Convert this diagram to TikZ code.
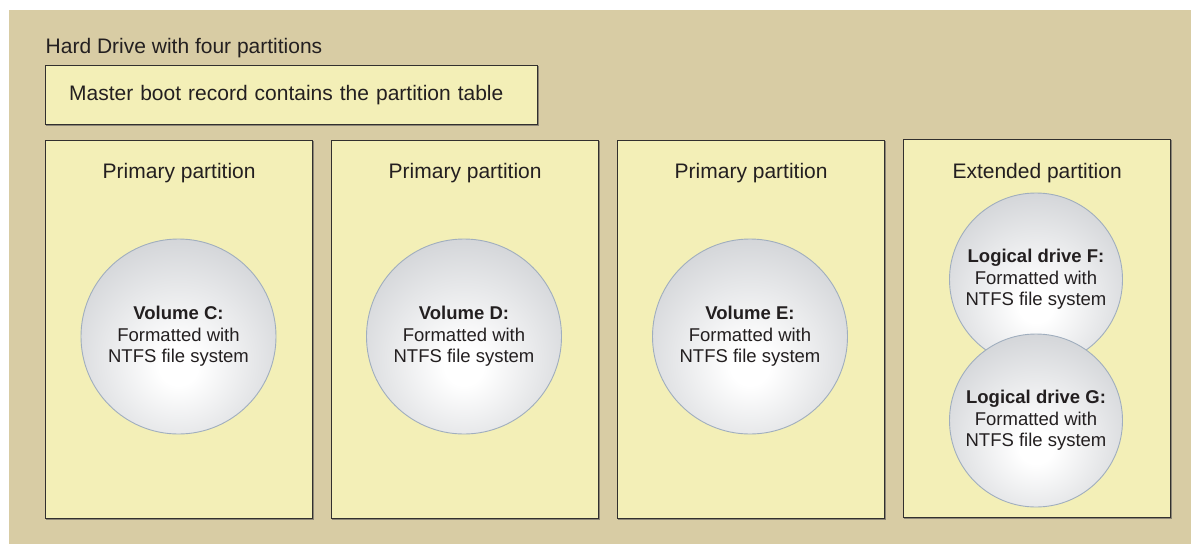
\documentclass[tikz,border=0pt]{standalone}
\usepackage{fontspec}
\setmainfont{Liberation Sans}
\usetikzlibrary{calc}
\definecolor{tanbg}{RGB}{216,204,164}
\definecolor{paleyel}{RGB}{243,239,183}
\definecolor{edgecol}{RGB}{50,48,46}
\definecolor{shadowcol}{RGB}{140,134,118}
\definecolor{txt}{RGB}{35,31,32}
\definecolor{sphgray}{RGB}{188,191,196}
\definecolor{sphedge}{RGB}{160,174,190}
\pgfdeclareradialshading{sphere}{\pgfpoint{0bp}{-8bp}}{color(0bp)=(white); color(5bp)=(white); color(44bp)=(sphgray); color(80bp)=(sphgray)}
\tikzset{
  bigtext/.style={font=\fontsize{21}{25}\selectfont, text=txt},
  smalltext/.style={font=\fontsize{18.5}{21.5}\selectfont, text=txt},
  yelbox/.style={draw=edgecol, line width=1.3pt, fill=paleyel, rectangle, inner sep=0pt,
    preaction={draw=shadowcol, line width=1.1pt, transform canvas={shift={(1pt,-1pt)}}}},
  partbox/.style={yelbox, minimum width=267pt, minimum height=378pt, anchor=north west},
  mbrbox/.style={yelbox, bigtext, anchor=north west, minimum height=59pt, text width=445pt,
    inner xsep=23.5pt, align=left},
  sphere node/.style={circle, draw=sphedge, line width=0.9pt, shading=sphere, inner sep=0pt,
    smalltext, align=center},
  vol/.style={sphere node, minimum size=195pt},
  logical/.style={sphere node, minimum size=173pt},
  partlabel/.style={bigtext, anchor=base, inner sep=0pt}
}
\begin{document}
\begin{tikzpicture}[x=1pt,y=-1pt]
\path[use as bounding box] (0,0) rectangle (1191,544);
\fill[tanbg] (9,10) rectangle (1191,544);
\node[bigtext, anchor=base west, inner sep=0pt] (title) at (45.5,53) {Hard Drive with four partitions};
\node[mbrbox] (mbr) at (45,65) {Master boot record contains the partition table};
\node[partbox] (p1) at (45,140) {};
\node[partbox] (p2) at (331,140) {};
\node[partbox] (p3) at (617,140) {};
\node[partbox] (p4) at (903,139) {};
\node[partlabel] (l1) at ($(p1.north)+(0,38)$) {Primary partition};
\node[partlabel] (l2) at ($(p2.north)+(0,38)$) {Primary partition};
\node[partlabel] (l3) at ($(p3.north)+(0,38)$) {Primary partition};
\node[partlabel] (l4) at ($(p4.north)+(0,39)$) {Extended partition};
\node[vol] (c) at (178.5,336.5) {\textbf{Volume C:}\\Formatted with\\NTFS file system};
\node[vol] (d) at (464,336.5) {\textbf{Volume D:}\\Formatted with\\NTFS file system};
\node[vol] (e) at (750,336.5) {\textbf{Volume E:}\\Formatted with\\NTFS file system};
\node[logical] (f) at (1036,279.5) {\textbf{Logical drive F:}\\Formatted with\\NTFS file system};
\node[logical] (g) at (1036,420.5) {\textbf{Logical drive G:}\\Formatted with\\NTFS file system};
\end{tikzpicture}
\end{document}
